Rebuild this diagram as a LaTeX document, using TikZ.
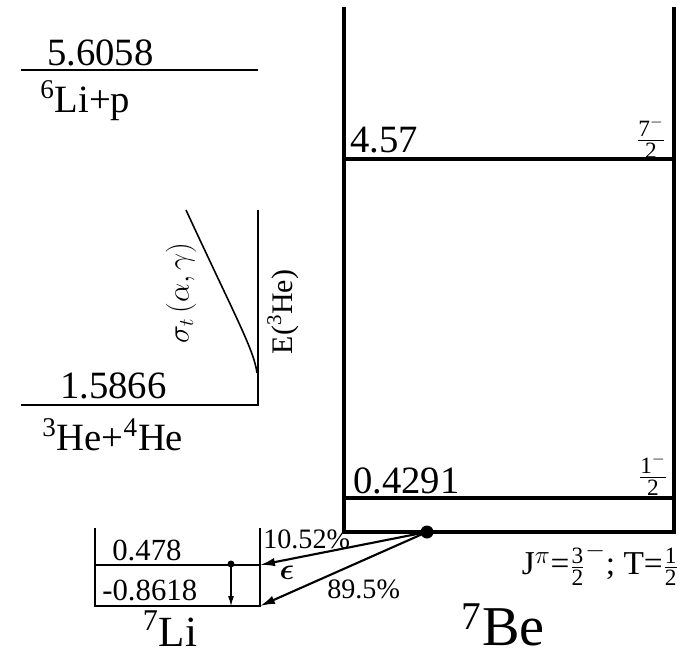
\documentclass[tikz,border=0pt]{standalone}
\usepackage{amsmath}
\usepackage{fontspec}
\setmainfont{Liberation Serif}
\usepackage{tikz}
\usetikzlibrary{arrows.meta,positioning,calc}
\tikzset{
    nivel/.style={line width=1.5pt},
    nivelBe/.style={line width=1.9pt},
    nivelLi/.style={line width=1.3pt},
    rotulo/.style={inner sep=0pt, font=\fontsize{22}{24}\selectfont},
    rotuloLi/.style={inner sep=0pt, font=\fontsize{17.5}{19}\selectfont},
    rotuloPeq/.style={inner sep=0pt, font=\fontsize{16}{18}\selectfont},
    spin/.style={inner sep=0pt, font=\fontsize{19}{21}\selectfont},
    nucleo/.style={inner sep=0pt, font=\fontsize{#1}{#1}\selectfont},
    fluxo/.style={-{Latex[length=3mm,width=1.7mm]}, line width=1.2pt},
    fluxoFino/.style={-{Latex[length=2mm,width=1.2mm]}, line width=0.6pt},
    ponto/.style={circle, fill, inner sep=0pt, minimum size=#1}
}

\begin{document}
\begin{tikzpicture}[x=0.02cm, y=-0.02cm]
    \useasboundingbox (0,0) rectangle (683,657);

    \coordinate (beTL) at (344,7);
    \coordinate (beTR) at (674,7);
    \coordinate (beBL) at (344,532);
    \coordinate (beBR) at (674,532);
    \coordinate (be457L) at (344,159);
    \coordinate (be457R) at (674,159);
    \coordinate (be429L) at (344,498);
    \coordinate (be429R) at (674,498);

    \coordinate (lipL) at (21,70);
    \coordinate (lipR) at (258,70);
    \coordinate (heL) at (21,405);
    \coordinate (heR) at (258,405);
    \coordinate (heTop) at (258,210);
    \coordinate (sigTop) at (186,210);
    \coordinate (sigBot) at (257,373);

    \coordinate (liTL) at (95,528);
    \coordinate (liTR) at (260,528);
    \coordinate (li478L) at (95,565);
    \coordinate (li478R) at (260,565);
    \coordinate (liGsL) at (95,606);
    \coordinate (liGsR) at (260,606);

    \node[rotulo, anchor=base west] (e5606) at (47,65) {5.6058};
    \node[rotulo, anchor=base west] (lip) at (40,112) {\textsuperscript{6}Li+p};
    \node[rotulo, anchor=base west] (e1587) at (60,398) {1.5866};
    \node[rotulo, anchor=base west] (hehe) at (42,450) {\textsuperscript{3}He+\textsuperscript{4}He};
    \node[nucleo=18, rotate=90] (sigma) at (181,293) {$\sigma_t\,(\alpha,\gamma)$};
    \node[nucleo=17, rotate=90] (energia) at (283,312) {E(\textsuperscript{3}He)};

    \node[rotulo, anchor=base west] (e457) at (350,152) {4.57};
    \node[spin] (j457) at (651,138) {$\frac{\text{7}^{-}}{\text{2}}$};
    \node[rotulo, anchor=base west] (e429) at (353,493) {0.4291};
    \node[spin] (j429) at (653,475) {$\frac{\text{1}^{-}}{\text{2}}$};
    \node[spin, anchor=east] (jgs) at (679,564)
        {J$^{\pi}$=$\frac{\text{3}}{\text{2}}^{-}$; T=$\frac{\text{1}}{\text{2}}$};
    \node[nucleo=32, anchor=base] (be7) at (503,645) {\textsuperscript{7}Be};

    \node[rotuloLi, anchor=base west] (e478) at (112,560) {0.478};
    \node[rotuloLi, anchor=base west] (eli) at (102,600) {-0.8618};
    \node[nucleo=24.5, anchor=base] (li7) at (170,646) {\textsuperscript{7}Li};
    \node[ponto=1.4mm] (gama) at (231,564) {};

    \node[ponto=2.6mm] (decaimento) at (427,532) {};
    \node[rotuloPeq, anchor=base west] (ramo1) at (263,548) {10.52\%};
    \node[rotuloPeq, anchor=base west] (ramo2) at (327,598) {89.5\%};
    \node[nucleo=17] (eps) at (287,573) {$\boldsymbol{\epsilon}$};

    \draw[nivelBe] (beTL) -- (beBL) -- (beBR) -- (beTR);
    \draw[nivelBe] (be457L) -- (be457R);
    \draw[nivelBe] (be429L) -- (be429R);

    \draw[nivel] (lipL) -- (lipR);
    \draw[nivel] (heL) -- (heR) -- (heTop);
    \draw[line width=0.9pt] (sigTop) .. controls (236,318) and (254,350) .. (sigBot);

    \draw[nivelLi] (liTL) -- (liGsL) -- (liGsR) -- (liTR);
    \draw[nivelLi] (li478L) -- (li478R);
    \draw[fluxoFino] (gama.center) -- (gama |- liGsL);

    \draw[fluxo] (decaimento.center) -- (li478R);
    \draw[fluxo] (decaimento.center) -- (liGsR);
\end{tikzpicture}
\end{document}
